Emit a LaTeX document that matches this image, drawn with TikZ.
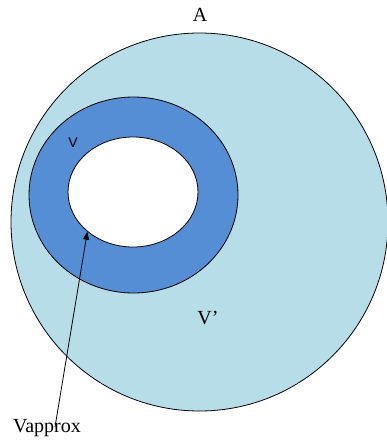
\documentclass[tikz,border=0pt]{standalone}
\usepackage{fontspec}
\setmainfont{Liberation Serif}
\newfontfamily\labelsans{Liberation Sans}
\usepackage{xcolor}
\usepackage{tikz}
\usetikzlibrary{arrows.meta, positioning, shapes.geometric}

\definecolor{outerblue}{RGB}{183,222,232}
\definecolor{ringblue}{RGB}{85,142,213}

\begin{document}
\begin{tikzpicture}[x=1pt, y=-1pt,
    region/.style={ellipse, draw=black, line width=0.8pt, inner sep=0pt},
    lbl/.style={font=\fontsize{20}{20}\selectfont, inner sep=0pt}]
          \useasboundingbox (0,0) rectangle (387,442);

          \node[region, fill=outerblue, minimum width=377, minimum height=378] (A) at (199.5,222) {};
          \node[region, fill=ringblue, minimum width=209, minimum height=196] (V) at (133.5,195) {};
          \node[region, fill=white, minimum width=130, minimum height=110] (hole) at (133,192) {};

          \node[lbl] (Alabel) at (200,15) {A};
          \node[inner sep=0pt, font=\labelsans\fontsize{14}{14}\selectfont] (Vlabel) at (73,143) {V};
          \node[lbl] (Vprime) at (208,318) {V’};
          \node[lbl] (Vapprox) at (47,428) {Vapprox};

          \coordinate (tail) at (55,427);
          \draw[line width=0.8pt, -{Triangle[length=8pt, width=6pt]}] (tail) -- (hole.221);
        \end{tikzpicture}
\end{document}
